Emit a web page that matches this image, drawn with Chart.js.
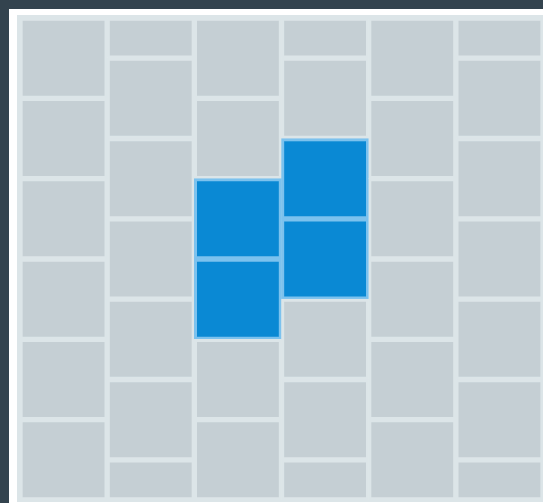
<!DOCTYPE html>
<html>
<head>
<meta charset="utf-8">
<script src="https://cdn.jsdelivr.net/npm/chart.js@4"></script>
<style>
  html, body { margin: 0; padding: 0; }
  body { width: 543px; height: 503px; background: #33434e; overflow: hidden; position: relative; }
  #panel { position: absolute; left: 9px; top: 9px; right: 0; bottom: 0; background: #ffffff; }
  #board { position: absolute; left: 17px; top: 15px; width: 526px; height: 487px; background: #dce5e8; }
</style>
</head>
<body>
<div id="panel"></div>
<div id="board"><canvas id="tiles"></canvas></div>
<script>
// colonnes du mur (pas de libellés visibles)
const columns = ['A', 'B', 'C', 'D', 'E', 'F'];

// rangées empilées, de bas en haut
const row0 = [1, 0.5, 1, 0.5, 1, 0.5];
const row1 = [1, 1, 1, 1, 1, 1];
const row2 = [1, 1, 1, 1, 1, 1];
const row3 = [1, 1, 1, 1, 1, 1];
const row4 = [1, 1, 1, 1, 1, 1];
const row5 = [1, 1, 1, 1, 1, 1];
const row6 = [null, 0.5, null, 0.5, null, 0.5];
const rows = [row0, row1, row2, row3, row4, row5, row6];

// cases en surbrillance : [colonne, rangée]
const highlighted = [[2, 2], [2, 3], [3, 3], [3, 4]];

function isOn(col, row) {
    return highlighted.some(h => h[0] === col && h[1] === row);
}

const datasets = rows.map((values, r) => ({
    data: values,
    backgroundColor: values.map((v, c) => isOn(c, r) ? '#0a89d4' : '#c5cfd4'),
    borderColor: values.map((v, c) => isOn(c, r) ? '#7cc2ee' : '#dce5e8'),
    borderWidth: 3,
    borderRadius: 2,
    borderSkipped: false,
    barPercentage: 1,
    categoryPercentage: 1
}));

const ctx = document.getElementById('tiles').getContext('2d');
new Chart(ctx, {
    type: 'bar',
    data: { labels: columns, datasets: datasets },
    options: {
        responsive: true,
        maintainAspectRatio: false,
        animation: false,
        layout: { padding: { left: 3, top: 3, right: 0, bottom: 2 } },
        plugins: { legend: { display: false }, tooltip: { enabled: false } },
        scales: {
            x: { stacked: true, display: false },
            y: { stacked: true, display: false, min: 0, max: 6 }
        }
    }
});
</script>
</body>
</html>
